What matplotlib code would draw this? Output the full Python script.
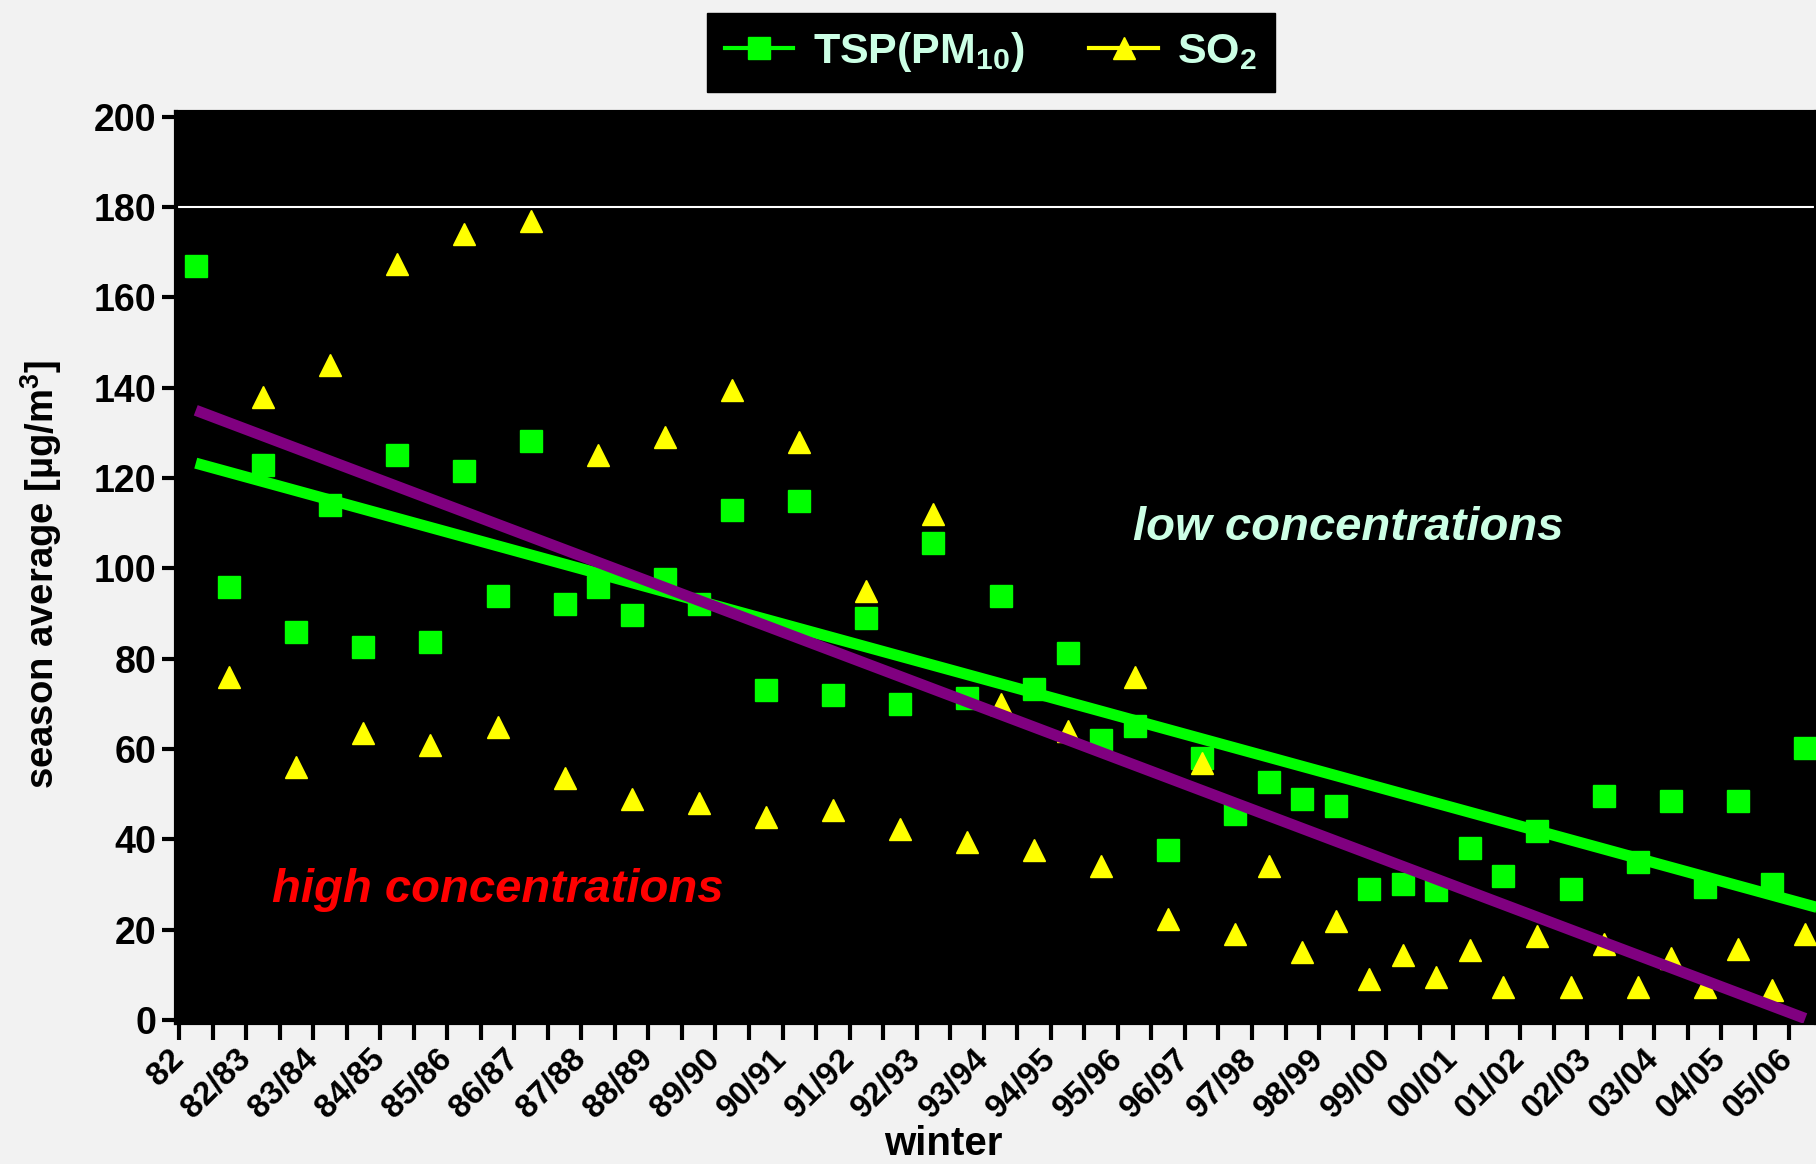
import matplotlib
matplotlib.use("Agg")
import matplotlib.pyplot as plt
import numpy as np
from matplotlib.lines import Line2D

# winter labels (one label every second half-season category)
winter_labels = ["82", "82/83", "83/84", "84/85", "85/86", "86/87", "87/88", "88/89",
                 "89/90", "90/91", "91/92", "92/93", "93/94", "94/95", "95/96", "96/97",
                 "97/98", "98/99", "99/00", "00/01", "01/02", "02/03", "03/04", "04/05",
                 "05/06"]

# season averages [ug/m3]
tsp = [166.9, 95.9, 122.8, 85.9, 114.0, 82.6, 125.0, 83.6, 121.5, 93.8,
       128.2, 92.0, 95.9, 89.7, 97.7, 92.0, 113.0, 73.0, 115.0, 72.0,
       89.0, 70.0, 105.6, 71.3, 93.8, 73.3, 81.3, 62.0, 65.0, 37.7,
       58.0, 45.6, 52.6, 49.0, 47.4, 29.0, 30.0, 28.7, 38.0, 31.8,
       41.8, 29.0, 49.5, 35.0, 48.5, 29.5, 48.5, 30.0, 60.3]
so2 = [np.nan, 75.9, 138.0, 55.9, 145.0, 63.6, 167.4, 60.8, 174.0, 64.9,
       177.0, 53.6, 125.0, 49.0, 129.0, 48.0, 139.5, 45.0, 128.0, 46.4,
       95.0, 42.3, 112.0, 39.5, 70.0, 37.7, 64.0, 34.0, 76.0, 22.3,
       57.0, 19.0, 34.0, 15.0, 21.8, 9.0, 14.4, 9.5, 15.4, 7.2,
       18.5, 7.2, 16.7, 7.2, 13.8, 7.2, 15.6, 6.7, 19.0]

# linear trend lines (end points)
trend_x = [0, 48.5]
tsp_trend = [123.3, 24.6]
so2_trend_x = [0, 48]
so2_trend = [135.0, 0.3]

limit_value = 180

plt.rcParams["font.family"] = "Liberation Sans"
plt.rcParams["font.weight"] = "bold"
plt.rcParams["mathtext.fontset"] = "custom"
plt.rcParams["mathtext.rm"] = "Liberation Sans:bold"
plt.rcParams["mathtext.it"] = "Liberation Sans:bold"
plt.rcParams["mathtext.bf"] = "Liberation Sans:bold"

GREEN = "#00ff00"
YELLOW = "#ffff00"
MINT = "#ccffe5"

x = np.arange(len(tsp))

fig = plt.figure(figsize=(18.16, 11.64), dpi=100, facecolor="#f2f2f2")
ax = fig.add_axes([0.0969, 0.1215, 0.9031, 0.782])
ax.set_facecolor("black")

ax.axhline(limit_value, color="white", lw=1.5, zorder=2)
ax.plot(x, tsp, "s", color=GREEN, ms=16, zorder=3)
ax.plot(x, so2, "^", color=YELLOW, ms=16, zorder=3)
ax.plot(trend_x, tsp_trend, color=GREEN, lw=8, zorder=5, solid_capstyle="butt")
ax.plot(so2_trend_x, so2_trend, color="#800080", lw=8, zorder=5, solid_capstyle="butt")

ax.set_xlim(-0.59, 48.32)
ax.set_ylim(-0.6, 201)

ticks = np.arange(len(tsp)) - 0.5
labels = []
for i in range(len(tsp)):
    labels.append(winter_labels[i // 2] if i % 2 == 0 else "")
ax.set_xticks(ticks)
ax.set_xticklabels(labels, rotation=45, ha="right", va="center",
                   rotation_mode="anchor", fontsize=24, fontweight="bold")
ax.set_yticks(range(0, 201, 20))
ax.set_yticklabels([str(v) for v in range(0, 201, 20)], fontsize=27, fontweight="bold")
ax.tick_params(axis="x", length=12, width=3, direction="out", pad=11)
ax.tick_params(axis="y", length=10, width=3, direction="out", pad=4)
for s in ax.spines.values():
    s.set_color("black")
    s.set_linewidth(3)

ax.set_ylabel("season average [µg/m$^3$]", fontsize=27.5, fontweight="bold")
ax.yaxis.set_label_coords(-0.068, 0.492)
ax.set_xlabel("winter", fontsize=29, fontweight="bold")
ax.xaxis.set_label_coords(0.468, -0.113)

ax.text(27.95, 106.3, "low concentrations", color=MINT, fontsize=34,
        fontweight="bold", style="italic", va="baseline", ha="left", zorder=6)
ax.text(2.28, 26.1, "high concentrations", color="#ff0000", fontsize=34,
        fontweight="bold", style="italic", va="baseline", ha="left", zorder=6)

h1 = Line2D([], [], color=GREEN, marker="s", ms=16, lw=3)
h2 = Line2D([], [], color=YELLOW, marker="^", ms=16, lw=3)
leg = fig.legend([h1, h2], ["TSP(PM$_{10}$)", "SO$_2$"], loc="center",
                 bbox_to_anchor=(0.5457, 0.955), ncol=2, frameon=True,
                 facecolor="black", edgecolor="black", fancybox=False, framealpha=1,
                 prop={"family": "Liberation Sans", "weight": "bold", "size": 31},
                 labelcolor=MINT, handlelength=1.6, handletextpad=0.45,
                 columnspacing=1.5, borderpad=0.4)

fig.savefig("out.png", dpi=100, facecolor=fig.get_facecolor())
